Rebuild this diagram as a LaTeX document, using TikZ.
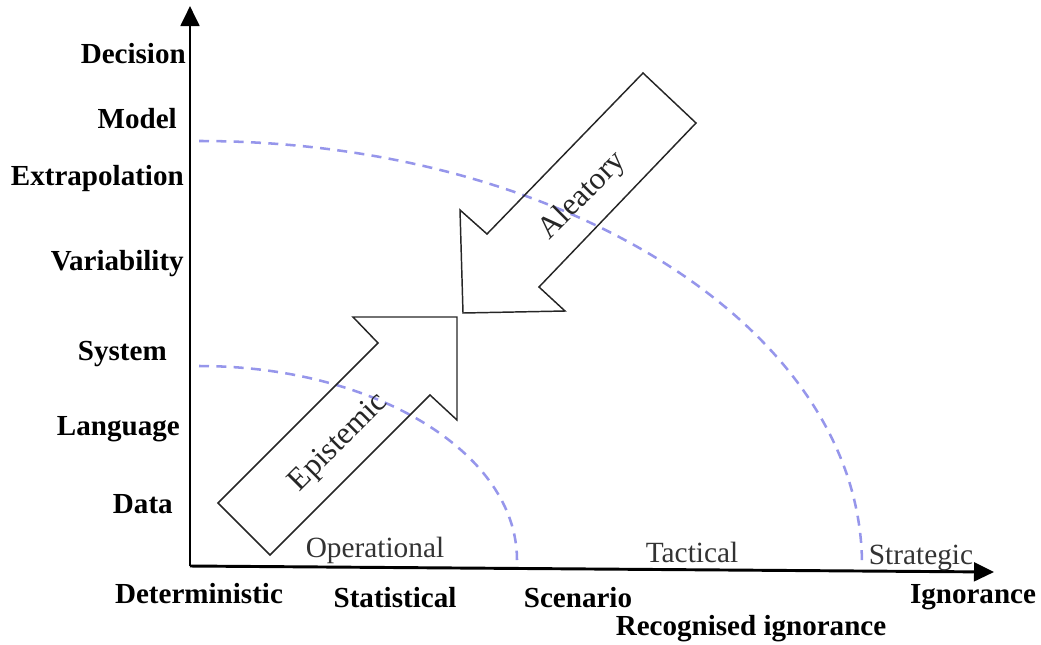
\documentclass[tikz,border=0pt]{standalone}
\usepackage{fontspec}
\setmainfont{Liberation Serif}
\usetikzlibrary{arrows.meta}
\definecolor{dashblue}{RGB}{150,150,235}
\begin{document}
\begin{tikzpicture}[x=0.75pt,y=-0.75pt,
  lab/.style={font=\fontsize{21.8}{24}\selectfont\bfseries, inner sep=0pt},
  zone/.style={font=\fontsize{22}{24}\selectfont, inner sep=0pt, text=black!80},
  axis/.style={line width=2.2pt, -{Triangle[length=15pt,width=14pt]}},
  band/.style={dashblue, line width=1.9pt, dash pattern=on 7.5pt off 5.5pt},
  bigarrow/.style={draw=black!85, line width=1.1pt, line join=miter},
  arrowtext/.style={font=\fontsize{23.5}{24}\selectfont, inner sep=0pt, rotate=45, text=black!85}]
\useasboundingbox (0,0) rectangle (1041,644);
% dashed bands
\draw[band] (199,366) arc[start angle=-90, end angle=0, x radius=318, y radius=194];
\draw[band] (199,141) arc[start angle=-90, end angle=0, x radius=663, y radius=424];
% axes
\coordinate (O) at (190,566);
\coordinate (Ytop) at (190,6);
\coordinate (Xend) at (994,572);
\draw[axis] (O) -- (Ytop);
\draw[axis] (O) -- (Xend);
% epistemic arrow
\draw[bigarrow] (270,555) -- (218,503) -- (378,343) -- (353,317) -- (457,317) -- (457,420) -- (430,395) -- cycle;
\node[arrowtext] (epi) at (339,443) {Epistemic};
% aleatory arrow
\draw[bigarrow] (643,73) -- (696,123) -- (539,287) -- (565,311) -- (463,313) -- (460,210) -- (487,234) -- cycle;
\node[arrowtext] (ale) at (583,196) {Aleatory};
% left labels
\node[lab, anchor=base east] (dec) at (186,63) {Decision};
\node[lab, anchor=base east] (mod) at (177,128) {Model};
\node[lab, anchor=base east] (ext) at (184,185) {Extrapolation};
\node[lab, anchor=base east] (var) at (184,270) {Variability};
\node[lab, anchor=base east] (sys) at (167,360) {System};
\node[lab, anchor=base east] (lang) at (180,435) {Language};
\node[lab, anchor=base east] (dat) at (173,513) {Data};
% bottom labels
\node[lab, anchor=base] (det) at (199,603) {Deterministic};
\node[lab, anchor=base] (stat) at (395,607) {Statistical};
\node[lab, anchor=base] (scen) at (578,607) {Scenario};
\node[lab, anchor=base] (recig) at (751,635) {Recognised ignorance};
\node[lab, anchor=base] (ign) at (973,603) {Ignorance};
% zones
\node[zone, anchor=base] (op) at (375,557) {Operational};
\node[zone, anchor=base] (tac) at (692,562) {Tactical};
\node[zone, anchor=base] (strat) at (921,564) {Strategic};
\end{tikzpicture}
\end{document}
